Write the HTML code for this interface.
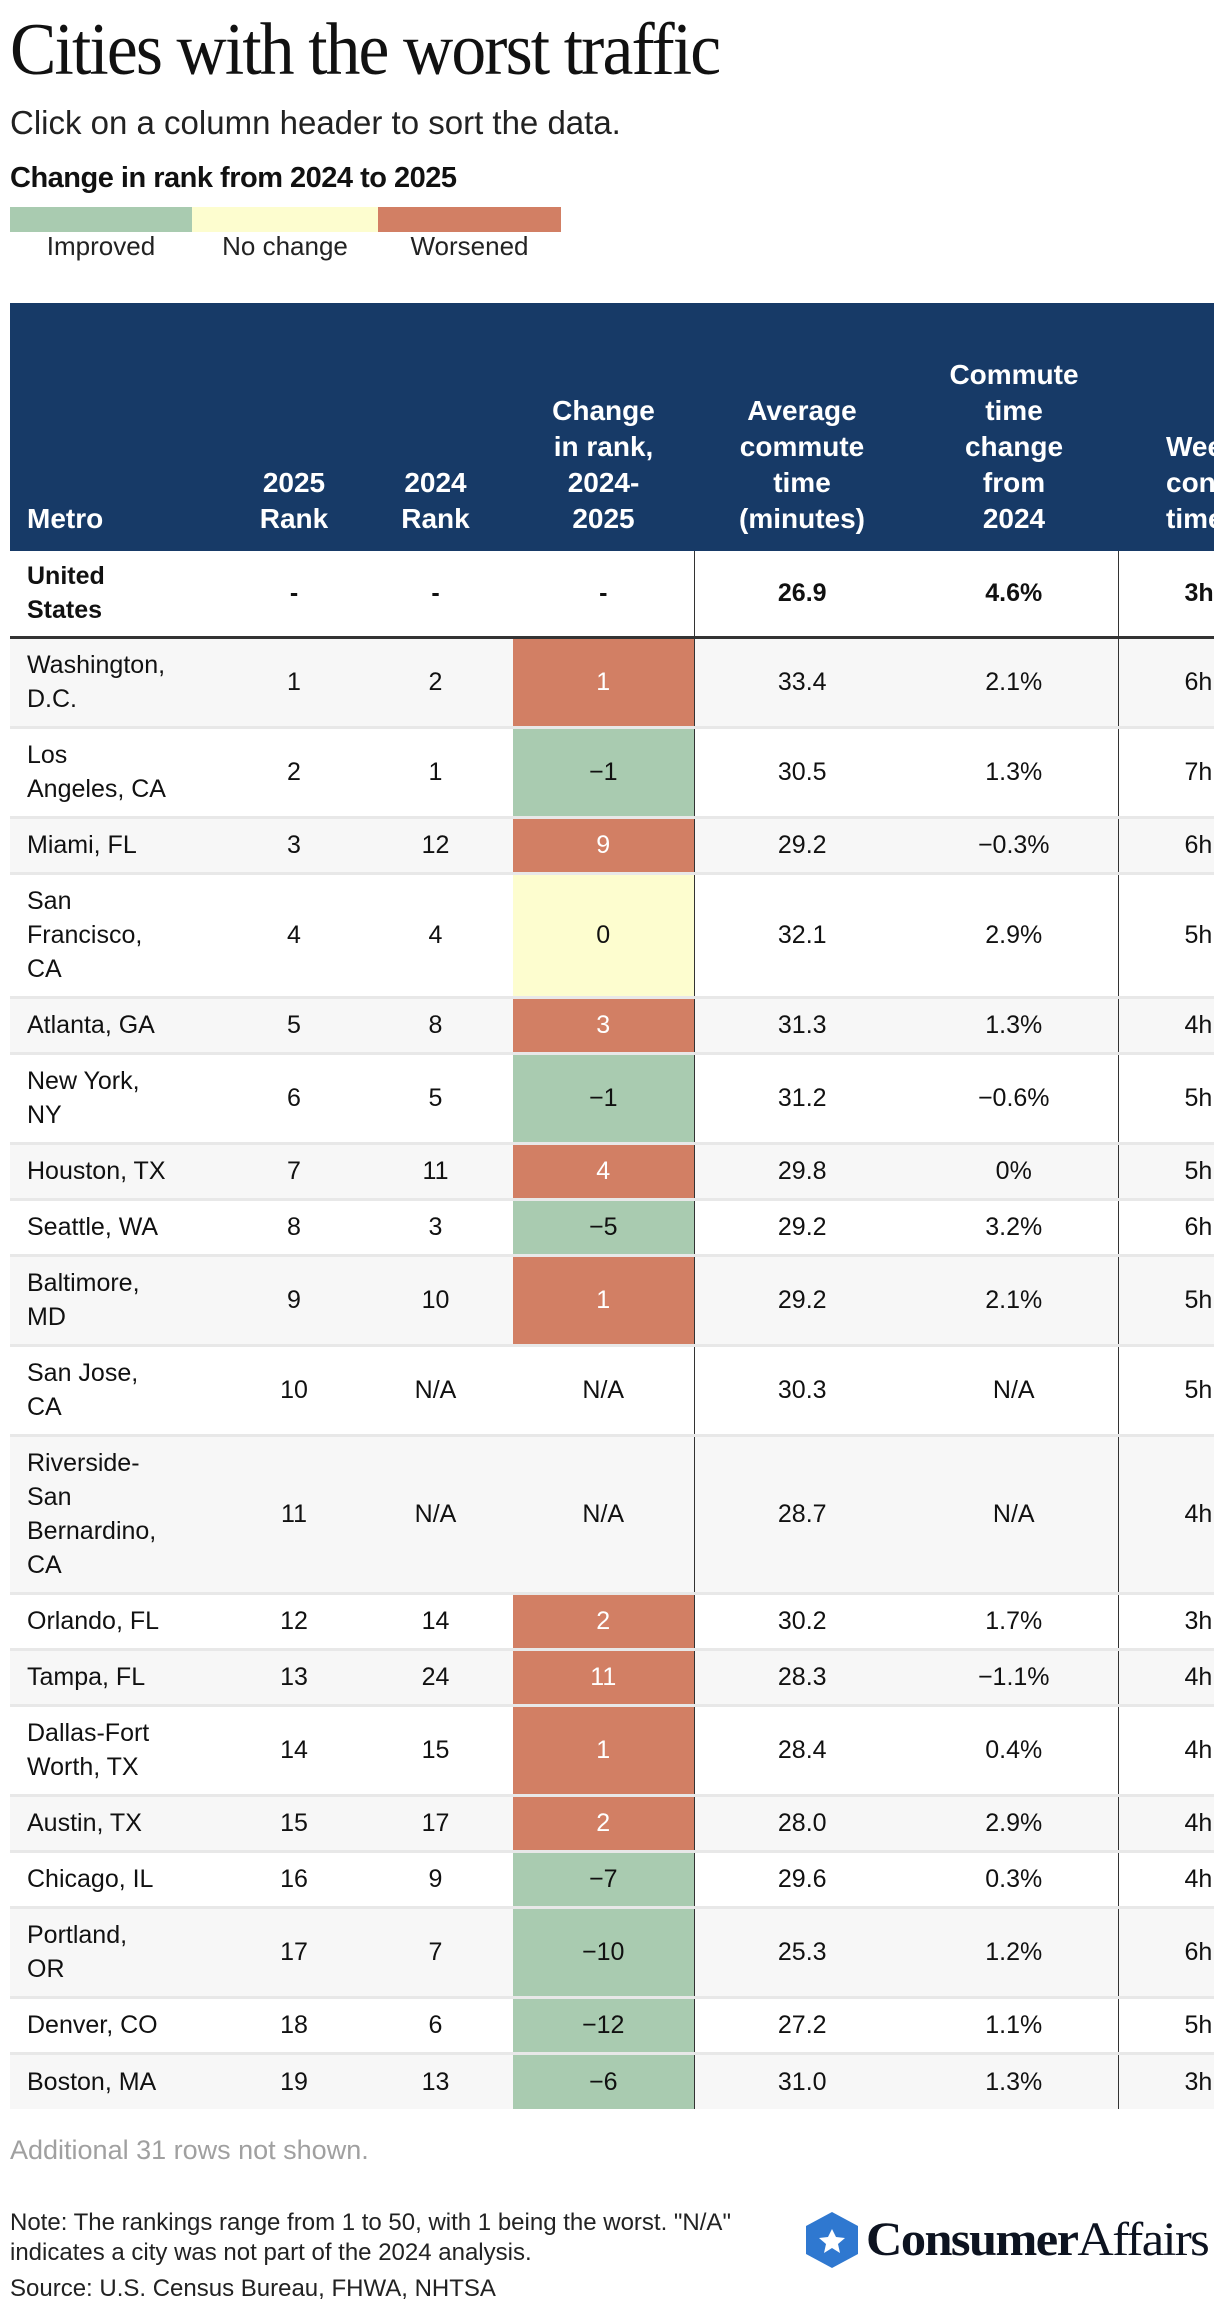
<!DOCTYPE html>
<html><head><meta charset="utf-8">
<style>
body{margin:0;width:1220px;height:2308px;background:#fff;font-family:"Liberation Sans",sans-serif;color:#111;position:relative;overflow:hidden}
.abs{position:absolute}
#title{left:10px;top:8px;font-family:"Liberation Serif",serif;font-size:74px;letter-spacing:-2px;transform:scaleX(0.94);transform-origin:0 0;white-space:nowrap}
#sub{left:10px;top:104px;font-size:33px;color:#222}
#legt{left:10px;top:162px;font-size:29px;font-weight:bold;letter-spacing:-0.5px}
.sw{top:207px;height:25px}
.ll{top:231px;font-size:26px;color:#222;text-align:center}
#wrap{left:10px;top:303px;width:1204px;height:1815px;overflow:hidden}
table{border-collapse:collapse;table-layout:fixed;width:1360px}
th{background:#173a67;color:#fff;font-size:28px;font-weight:bold;line-height:36px;vertical-align:bottom;padding:0 0 14px 0;height:234px;text-align:center}
th.m{text-align:left;padding-left:17px}
td{font-size:25px;line-height:34px;text-align:center;padding:0;border-top:3px solid #e8e8e8}
td.m{text-align:left;padding-left:17px}
td.b1{border-left:1.5px solid #333}
tr.us td{font-weight:bold;border-top:none;border-bottom:3px solid #333}
#more{left:10px;top:2135px;font-size:27px;color:#a0a0a0}
.note{left:10px;font-size:24px;color:#222}
</style></head><body>
<div id="title" class="abs">Cities with the worst traffic</div>
<div id="sub" class="abs">Click on a column header to sort the data.</div>
<div id="legt" class="abs">Change in rank from 2024 to 2025</div>
<div class="abs sw" style="left:10px;width:182px;background:#a9cbb0"></div>
<div class="abs sw" style="left:192px;width:186px;background:#fdfdcf"></div>
<div class="abs sw" style="left:378px;width:183px;background:#d27f64"></div>
<div class="abs ll" style="left:10px;width:182px">Improved</div>
<div class="abs ll" style="left:192px;width:186px">No change</div>
<div class="abs ll" style="left:378px;width:183px">Worsened</div>
<div id="wrap" class="abs">
<table><colgroup><col style="width:220px"><col style="width:128px"><col style="width:155px"><col style="width:181px"><col style="width:216px"><col style="width:208px"><col style="width:252px"></colgroup>
<thead><tr>
<th class="m">Metro</th>
<th>2025<br>Rank</th>
<th>2024<br>Rank</th>
<th>Change<br>in rank,<br>2024-<br>2025</th>
<th>Average<br>commute<br>time<br>(minutes)</th>
<th>Commute<br>time<br>change<br>from<br>2024</th>
<th style="text-align:left;padding-left:48px">Weekly<br>congestion<br>time</th>
</tr></thead>
<tbody id="tb">
<tr class="us" style="height:86px"><td class="m">United<br>States</td><td>-</td><td>-</td><td>-</td><td class="b1">26.9</td><td>4.6%</td><td class="b1" style="text-align:left;padding-left:66px">3h</td></tr>
</tbody></table></div>
<div id="more" class="abs">Additional 31 rows not shown.</div>
<div class="abs note" style="top:2208px;line-height:30px">Note: The rankings range from 1 to 50, with 1 being the worst. "N/A"<br>indicates a city was not part of the 2024 analysis.</div>
<div class="abs note" style="top:2275px">Source: U.S. Census Bureau, FHWA, NHTSA</div>
<svg class="abs" style="left:805px;top:2211px" width="54" height="58"><polygon points="27,1 53,15 53,43 27,57 1,43 1,15" fill="#2f78d0"/><polygon points="27,18 31,26 40,27 33,33 35,42 27,37 19,42 21,33 14,27 23,26" fill="#fff"/></svg>
<div class="abs" style="left:866px;top:2212px;font-family:'Liberation Serif',serif;font-size:48px;letter-spacing:-1.5px;white-space:nowrap;color:#0d1320;transform:scaleX(1.05);transform-origin:0 0"><b>Consumer</b>Affairs</div>
<script>
const metros=["Washington,<br>D.C.","Los<br>Angeles, CA","Miami, FL","San<br>Francisco,<br>CA","Atlanta, GA","New York,<br>NY","Houston, TX","Seattle, WA","Baltimore,<br>MD","San Jose,<br>CA","Riverside-<br>San<br>Bernardino,<br>CA","Orlando, FL","Tampa, FL","Dallas-Fort<br>Worth, TX","Austin, TX","Chicago, IL","Portland,<br>OR","Denver, CO","Boston, MA"];
const rank2025=[1,2,3,4,5,6,7,8,9,10,11,12,13,14,15,16,17,18,19];
const rank2024=[2,1,12,4,8,5,11,3,10,null,null,14,24,15,17,9,7,6,13];
const avgCommute=["33.4","30.5","29.2","32.1","31.3","31.2","29.8","29.2","29.2","30.3","28.7","30.2","28.3","28.4","28.0","29.6","25.3","27.2","31.0"];
const commuteChange=["2.1%","1.3%","−0.3%","2.9%","1.3%","−0.6%","0%","3.2%","2.1%","N/A","N/A","1.7%","−1.1%","0.4%","2.9%","0.3%","1.2%","1.1%","1.3%"];
const weekly=["6h","7h","6h","5h","4h","5h","5h","6h","5h","5h","4h","3h","4h","4h","4h","4h","6h","5h","3h"];
const tb=document.getElementById('tb');
metros.forEach((m,i)=>{
  const lines=m.split('<br>').length;
  const tr=document.createElement('tr');
  
  
  tr.style.height=(22+34*lines)+'px';
  tr.style.background=i%2===0?'#f7f7f7':'#fff';
  const r24=rank2024[i];
  let chg='N/A',bg='transparent',col='#111';
  if(r24!==null){const d=rank2025[i]-r24;const c=-d;chg=c<0?'−'+Math.abs(c):String(c);
    if(c>0){bg='#d27f64';col='#fff';}else if(c<0){bg='#a9cbb0';}else{bg='#fdfdcf';}}
  tr.innerHTML='<td class="m">'+m+'</td><td>'+rank2025[i]+'</td><td>'+(r24===null?'N/A':r24)+'</td><td style="background:'+bg+';color:'+col+'">'+chg+'</td><td class="b1">'+avgCommute[i]+'</td><td>'+commuteChange[i]+'</td><td class="b1" style="text-align:left;padding-left:66px">'+weekly[i]+'</td>';
  tb.appendChild(tr);
});
</script>
</body></html>
